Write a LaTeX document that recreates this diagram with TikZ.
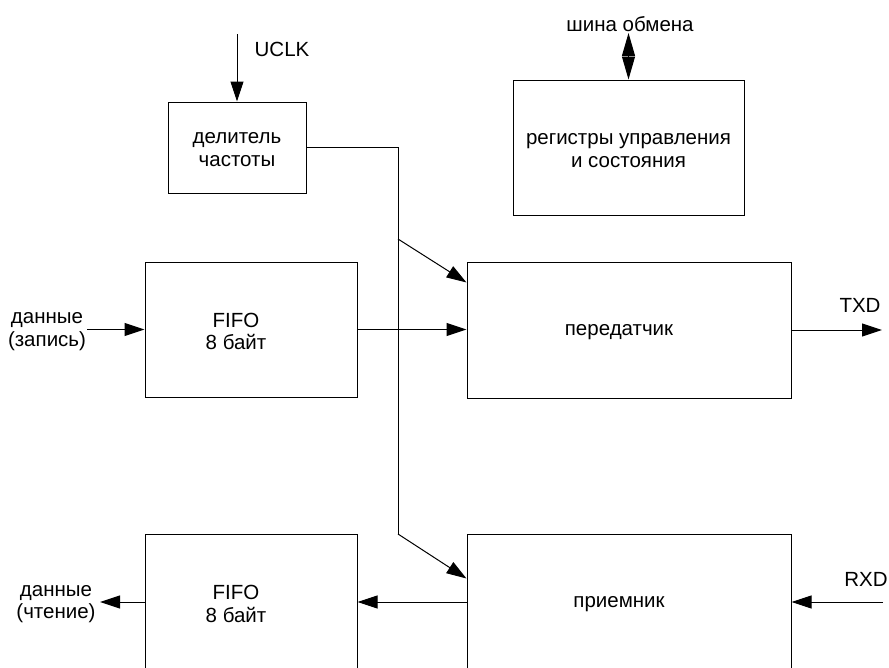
\documentclass[tikz,border=0pt]{standalone}
\usepackage{fontspec}
\setmainfont{Liberation Sans}
\usetikzlibrary{arrows.meta,calc}
\begin{document}
\begin{tikzpicture}[x=1pt,y=-1pt,
  box/.style={draw=black,line width=1pt,minimum width=#1,inner sep=0pt},
  txt/.style={align=center,inner sep=0pt,yshift=-2pt,font=\fontsize{20.5}{22.5}\selectfont},
  line/.style={draw=black,line width=1pt},
  arr/.style={line/.try,-{Triangle[length=20pt,width=13pt]}},
  dbl/.style={line/.try,{Triangle[length=23pt,width=13pt]}-{Triangle[length=23pt,width=13pt]}}]
\useasboundingbox (0,0) rectangle (889,667);
\clip (0,0) rectangle (889,667);
% boxes
\node[box=138pt,minimum height=91pt] (div) at (237,147.5) {};
\node[box=231pt,minimum height=135pt] (reg) at (628.5,147.5) {};
\node[box=212pt,minimum height=135pt] (fifoA) at (251,329.5) {};
\node[box=324pt,minimum height=136pt] (tx) at (629,330) {};
\node[box=212pt,minimum height=136pt] (fifoB) at (251,602) {};
\node[box=324pt,minimum height=136pt] (rx) at (629,602) {};
% box texts
\node[txt] (divt) at (div.center) {делитель\\частоты};
\node[txt] (regt) at ([yshift=-1pt]reg.center) {регистры управления\\и состояния};
\node[txt] (fifoAt) at ([xshift=-15pt]fifoA.center) {FIFO\\8 байт};
\node[txt] (txt1) at ([xshift=-10pt]tx.center) {передатчик};
\node[txt] (fifoBt) at ([xshift=-15pt]fifoB.center) {FIFO\\8 байт};
\node[txt] (rxt) at ([xshift=-10pt]rx.center) {приемник};
% outside labels
\node[txt] (uclkl) at (282,47) {UCLK};
\node[txt] (busl) at (630,22) {шина обмена};
\node[txt] (dinl) at (47,329.5) {данные\\(запись)};
\node[txt] (doutl) at (56,602) {данные\\(чтение)};
\node[txt] (txdl) at (860,303) {TXD};
\node[txt] (rxdl) at (866,577) {RXD};
% coordinates
\coordinate (uclk) at (237,34);
\coordinate (bus) at (628.5,33);
\coordinate (j1) at (398,147.5);
\coordinate (j2) at (398,239);
\coordinate (j3) at (398,534);
\coordinate (din) at (87,329.5);
\coordinate (dout) at (100,602);
\coordinate (txd) at (882,330);
\coordinate (rxd) at (883,602);
% connectors
\draw[arr] (uclk) -- (div.north);
\draw[dbl] (bus) -- (reg.north);
\draw[line] (div.east) -- (j1) -- (j3);
\draw[arr] (j2) -- ([yshift=-21pt]tx.north west);
\draw[arr] (j3) -- ([yshift=-45pt]rx.north west);
\draw[arr] (fifoA.east) -- (fifoA.east -| tx.west);
\draw[arr] (din) -- (fifoA.west);
\draw[arr] (tx.east) -- (txd);
\draw[arr] (rxd) -- (rx.east);
\draw[arr] (rx.west) -- (fifoB.east);
\draw[arr] (fifoB.west) -- (dout);
\end{tikzpicture}
\end{document}
